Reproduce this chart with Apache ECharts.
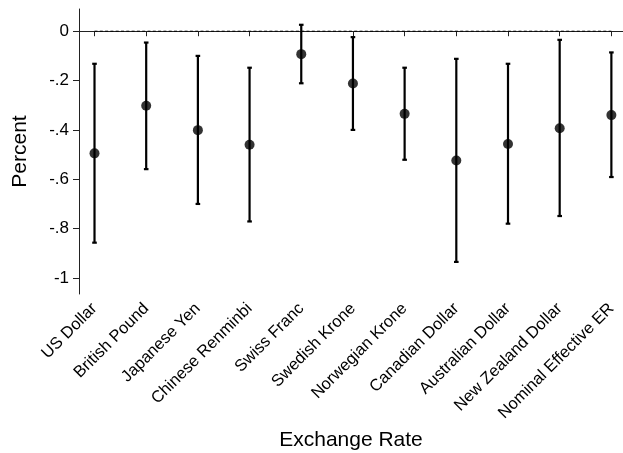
<!DOCTYPE html>
<html>
<head>
<meta charset="utf-8">
<script src="https://cdn.jsdelivr.net/npm/echarts@6/dist/echarts.min.js"></script>
<style>html,body{margin:0;padding:0;background:#fff}#c{width:623px;height:453px}</style>
</head>
<body>
<div id="c"></div>
<script>
// Data
const categories = ['US Dollar','British Pound','Japanese Yen','Chinese Renminbi','Swiss Franc','Swedish Krone','Norwegian Krone','Canadian Dollar','Australian Dollar','New Zealand Dollar','Nominal Effective ER'];
const estimates = [-0.495, -0.302, -0.401, -0.460, -0.093, -0.212, -0.335, -0.524, -0.457, -0.393, -0.340];
const upperCI   = [-0.132, -0.046, -0.100, -0.148,  0.026, -0.024, -0.148, -0.112, -0.132, -0.035, -0.086];
const lowerCI   = [-0.857, -0.559, -0.700, -0.771, -0.211, -0.400, -0.521, -0.935, -0.780, -0.749, -0.591];
const yTickValues = [-1, -0.8, -0.6, -0.4, -0.2, 0];
const yTickLabels = ['-1', '-.8', '-.6', '-.4', '-.2', '0'];
const referenceValue = 0;

const positions = categories.map((c, i) => i + 1);
const FONT = 'Liberation Sans, Arial, Helvetica, sans-serif';

const chart = echarts.init(document.getElementById('c'), null, {renderer: 'canvas'});
chart.setOption({
  animation: false,
  backgroundColor: '#fff',
  grid: {left: 79, right: 0, top: 9, bottom: 159, containLabel: false, outerBoundsMode: 'none'},
  xAxis: {
    type: 'value', min: 0.7, max: 11.225,
    name: 'Exchange Rate', nameLocation: 'middle', nameGap: 136,
    nameTextStyle: {fontFamily: FONT, fontSize: 21, color: '#000'},
    axisLine: {show: true, lineStyle: {color: '#222', width: 1}},
    axisTick: {show: true, length: 5, customValues: positions, lineStyle: {color: '#222', width: 1}},
    axisLabel: {
      customValues: positions, rotate: 45, margin: 12,
      fontFamily: FONT, fontSize: 16.5, color: '#000',
      formatter: v => categories[Math.round(v) - 1] || ''
    },
    splitLine: {show: false}
  },
  yAxis: {
    type: 'value', min: -1.065, max: 0.09,
    name: 'Percent', nameLocation: 'middle', nameGap: 48, nameRotate: 90,
    nameTextStyle: {fontFamily: FONT, fontSize: 21, color: '#000'},
    axisLine: {show: true, lineStyle: {color: '#222', width: 1}},
    axisTick: {show: true, length: 6, customValues: yTickValues, lineStyle: {color: '#222', width: 1}},
    axisLabel: {
      customValues: yTickValues, margin: 10,
      fontFamily: FONT, fontSize: 17, color: '#000',
      formatter: v => {
        const i = yTickValues.findIndex(t => Math.abs(t - v) < 1e-6);
        return i >= 0 ? yTickLabels[i] : '';
      }
    },
    splitLine: {show: false}
  },
  series: [
    {
      type: 'line',
      data: [[positions[0], referenceValue], [positions[positions.length - 1], referenceValue]],
      symbol: 'none',
      lineStyle: {color: '#000', width: 1, type: [3, 2.3]},
      silent: true, z: 1
    },
    {
      type: 'custom',
      clip: false,
      data: positions.map((p, i) => [p, lowerCI[i], upperCI[i]]),
      renderItem: function (params, api) {
        const x = api.value(0);
        const lo = api.coord([x, api.value(1)]);
        const hi = api.coord([x, api.value(2)]);
        const cw = 2.3;
        const style = {stroke: '#000', lineWidth: 2.2};
        return {
          type: 'group',
          children: [
            {type: 'line', shape: {x1: lo[0], y1: lo[1], x2: hi[0], y2: hi[1]}, style: style},
            {type: 'line', shape: {x1: lo[0] - cw, y1: lo[1], x2: lo[0] + cw, y2: lo[1]}, style: style},
            {type: 'line', shape: {x1: hi[0] - cw, y1: hi[1], x2: hi[0] + cw, y2: hi[1]}, style: style}
          ]
        };
      },
      z: 2
    },
    {
      type: 'scatter',
      data: positions.map((p, i) => [p, estimates[i]]),
      symbol: 'circle', symbolSize: 10,
      itemStyle: {color: '#000'},
      z: 3
    }
  ]
});
</script>
</body>
</html>
